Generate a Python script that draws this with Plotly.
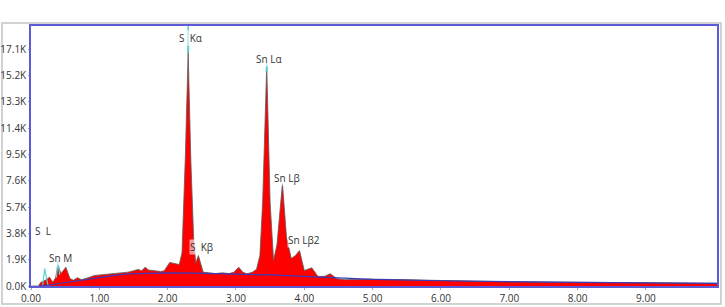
import plotly.graph_objects as go

# ---- data (energy in keV, counts) ----
spec_energy = [0.00, 0.11, 0.14, 0.18, 0.22, 0.27, 0.32, 0.36, 0.395, 0.44, 0.51, 0.57, 0.62, 0.68,
               0.74, 0.85, 0.93, 1.05, 1.20, 1.32, 1.42, 1.50, 1.57, 1.62, 1.67, 1.72, 1.80, 1.90,
               1.95, 2.03, 2.08, 2.12, 2.17, 2.21, 2.26, 2.30, 2.34, 2.38, 2.41, 2.45, 2.52, 2.60,
               2.70, 2.80, 2.90, 2.97, 3.04, 3.10, 3.16, 3.24, 3.30, 3.35, 3.39, 3.45, 3.50, 3.55,
               3.60, 3.68, 3.74, 3.81, 3.87, 3.93, 4.00, 4.11, 4.20, 4.30, 4.38, 4.48, 4.60, 5.00,
               5.50, 6.00, 7.00, 8.00, 9.00, 10.04]
spec_counts = [0, 0, 250, 350, 450, 640, 270, 600, 1480, 900, 1360, 540, 420, 600,
               450, 620, 760, 820, 900, 950, 1000, 1100, 1200, 1100, 1360, 1150, 1120, 1050,
               1100, 1700, 1650, 1600, 1550, 2400, 9500, 16900, 9000, 3500, 1650, 2200, 1000, 950,
               900, 950, 900, 1000, 1360, 1000, 880, 1000, 1200, 2200, 6000, 15900, 6000, 1850,
               3000, 7400, 3500, 1980, 2200, 2560, 1120, 1310, 690, 700, 880, 520, 460, 500,
               450, 400, 300, 270, 220, 200]

bg_energy = [0.12, 0.30, 0.44, 0.70, 0.93, 1.20, 1.42, 1.70, 2.00, 2.40, 2.93, 3.50, 4.00, 4.38,
             4.70, 5.00, 6.00, 7.00, 8.00, 9.00, 10.04]
bg_counts = [0, 80, 200, 400, 560, 750, 880, 930, 950, 930, 880, 800, 690, 600,
             520, 480, 380, 300, 260, 220, 190]

fit_energy = [0.17, 0.20, 0.25, None, 0.37, 0.395, 0.42, None, 2.293, 2.300, 2.307, None, 3.44, 3.45, 3.46]
fit_counts = [0, 1260, 0, None, 600, 1800, 800, None, 16900, 19500, 16900, None, 15500, 16100, 15500]

peak_labels = ["S  L", "Sn M", "S  Kα", "S  Kβ", "Sn Lα", "Sn Lβ", "Sn Lβ2"]
peak_label_x = [0.18, 0.43, 2.33, 2.50, 3.48, 3.74, 3.99]
peak_label_y = [4000, 2060, 17900, 2850, 16400, 7840, 3290]

y_tick_vals = [0, 1900, 3800, 5700, 7600, 9500, 11400, 13300, 15200, 17100]
y_tick_text = ["0.0K", "1.9K", "3.8K", "5.7K", "7.6K", "9.5K", "11.4K", "13.3K", "15.2K", "17.1K"]
x_tick_vals = [0, 1, 2, 3, 4, 5, 6, 7, 8, 9]
x_tick_text = ["0.00", "1.00", "2.00", "3.00", "4.00", "5.00", "6.00", "7.00", "8.00", "9.00"]

fig = go.Figure()
fig.add_trace(go.Scatter(x=spec_energy, y=spec_counts, mode="lines", fill="tozeroy",
                         fillcolor="#ff0000", line=dict(color="#5a5a5a", width=0.8),
                         hoverinfo="skip", showlegend=False))
fig.add_trace(go.Scatter(x=fit_energy, y=fit_counts, mode="lines",
                         line=dict(color="#5fcfcf", width=1.2), connectgaps=False,
                         hoverinfo="skip", showlegend=False))
fig.add_trace(go.Scatter(x=bg_energy, y=bg_counts, mode="lines",
                         line=dict(color="#3a3ab8", width=1.2),
                         hoverinfo="skip", showlegend=False))

for t, x, y in zip(peak_labels, peak_label_x, peak_label_y):
    fig.add_annotation(x=x, y=y, xref="x", yref="y", text=t, showarrow=False,
                       font=dict(family="Open Sans", size=10, color="#333333"),
                       bgcolor="rgba(255,255,255,0.6)", borderpad=0)

# outer frame
fig.add_shape(type="rect", xref="paper", yref="paper", x0=-0.0423, x1=1.0058, y0=-0.069, y1=1.0115,
              line=dict(color="#c4c4c4", width=1.5), layer="below")

fig.update_layout(
    width=725, height=307,
    margin=dict(l=31, r=8, t=26, b=21),
    paper_bgcolor="white", plot_bgcolor="white",
    font=dict(family="Open Sans", size=10, color="#333333"),
    xaxis=dict(range=[0, 10.04], tickvals=x_tick_vals, ticktext=x_tick_text,
               showgrid=False, zeroline=False, showline=True, mirror=True, automargin=False,
               linecolor="#5b5bd6", linewidth=1.5, ticks="outside", ticklen=2,
               tickcolor="#aaaaaa", tickfont=dict(size=10, color="#333333")),
    yaxis=dict(range=[0, 18790], tickvals=y_tick_vals, ticktext=y_tick_text,
               showgrid=False, zeroline=False, showline=True, mirror=True, automargin=False,
               linecolor="#5b5bd6", linewidth=1.5, ticks="outside", ticklen=1,
               tickcolor="#aaaaaa", tickfont=dict(size=10, color="#333333")),
)

fig.write_html("out.html")
